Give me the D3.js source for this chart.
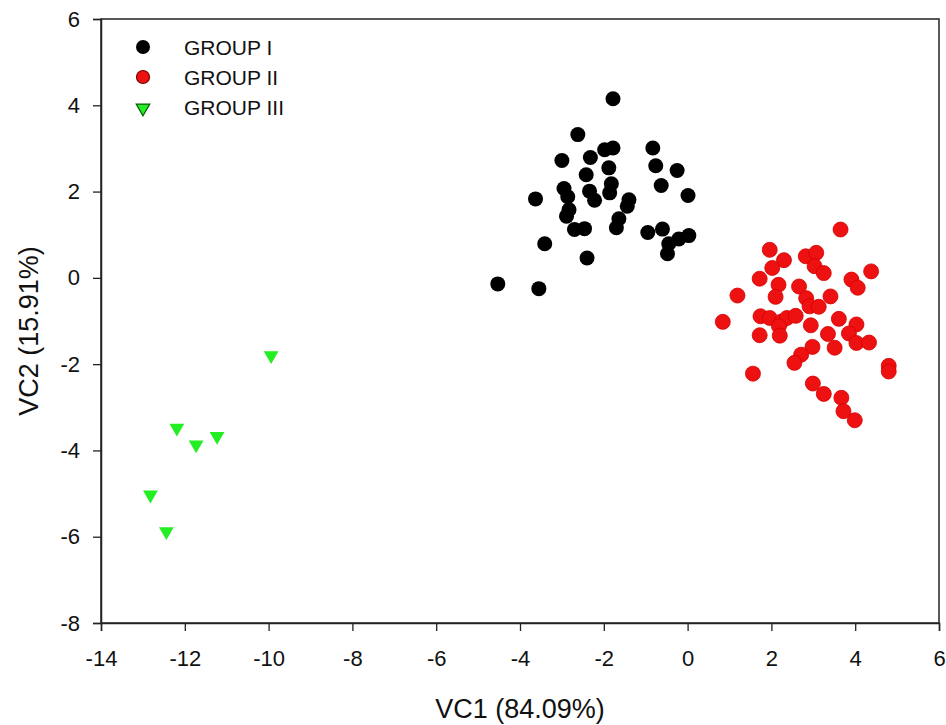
<!DOCTYPE html>
<html>
<head>
<meta charset="utf-8">
<script src="https://cdn.jsdelivr.net/npm/d3@7"></script>
<style>
	body { margin: 0; background: #fff; }
	text { font-family: "Liberation Sans", Arial, sans-serif; fill: #111; }
</style>
</head>
<body>
<div id="chart"></div>
<script>
// group I (black circles)
const groupI = [
	[-1.78, 4.15], [-2.62, 3.32], [-1.98, 2.97], [-1.78, 3.01], [-0.83, 3.01],
	[-3.00, 2.72], [-2.32, 2.79], [-0.76, 2.60], [-0.25, 2.49], [-1.88, 2.55],
	[-2.42, 2.39], [-0.63, 2.14], [0.01, 1.91], [-2.95, 2.07], [-1.82, 2.18],
	[-2.34, 2.01], [-1.86, 1.97], [-2.22, 1.80], [-2.86, 1.88], [-3.63, 1.83],
	[-1.40, 1.81], [-1.44, 1.66], [-2.83, 1.58], [-2.89, 1.43], [-1.64, 1.37],
	[-1.70, 1.16], [-2.70, 1.12], [-2.46, 1.14], [-0.95, 1.05], [-0.60, 1.13],
	[0.03, 0.98], [-0.21, 0.90], [-0.45, 0.79], [-0.48, 0.56], [-3.41, 0.79],
	[-2.40, 0.46], [-4.53, -0.14], [-3.55, -0.25]
];
// group II (red circles)
const groupII = [
	[3.65, 1.12], [1.96, 0.65], [2.82, 0.50], [3.07, 0.58], [2.30, 0.41],
	[2.02, 0.23], [3.03, 0.27], [3.25, 0.11], [4.38, 0.15], [3.91, -0.04],
	[4.06, -0.23], [1.72, -0.02], [2.17, -0.16], [2.66, -0.20], [1.19, -0.41],
	[2.10, -0.44], [2.83, -0.47], [3.41, -0.43], [2.91, -0.66], [3.13, -0.67],
	[1.74, -0.89], [1.96, -0.93], [2.24, -1.01], [2.37, -0.93], [2.58, -0.88],
	[3.61, -0.95], [0.84, -1.02], [2.18, -1.12], [2.94, -1.10], [4.03, -1.08],
	[1.72, -1.33], [2.20, -1.34], [3.35, -1.30], [3.85, -1.29], [4.03, -1.51],
	[4.33, -1.50], [2.98, -1.60], [3.51, -1.62], [2.71, -1.78], [2.55, -1.97],
	[4.80, -2.04], [4.80, -2.17], [1.56, -2.22], [2.99, -2.45], [3.25, -2.69],
	[3.67, -2.78], [3.72, -3.09], [3.99, -3.30]
];
// group III (green triangles)
const groupIII = [
	[-9.94, -1.80], [-12.19, -3.48], [-11.73, -3.87], [-11.23, -3.67],
	[-12.82, -5.03], [-12.44, -5.88]
];
const legendLabels = ["GROUP I", "GROUP II", "GROUP III"];
const xTicks = [-14, -12, -10, -8, -6, -4, -2, 0, 2, 4, 6];
const yTicks = [-8, -6, -4, -2, 0, 2, 4, 6];

const width = 946, height = 725;
const margin = {left: 101, right: 7, top: 19, bottom: 102};

const svg = d3.select("#chart").append("svg")
	.attr("width", width)
	.attr("height", height);

const x = d3.scaleLinear().domain([-14, 6]).range([margin.left, width - margin.right]);
const y = d3.scaleLinear().domain([-8, 6]).range([height - margin.bottom, margin.top]);

// frame
svg.append("rect")
	.attr("x", x(-14)).attr("y", y(6))
	.attr("width", x(6) - x(-14)).attr("height", y(-8) - y(6))
	.attr("fill", "none").attr("stroke", "#222").attr("stroke-width", 1.5);

// axes
const xAxis = svg.append("g")
	.attr("transform", `translate(0,${y(-8)})`)
	.call(d3.axisBottom(x).tickValues(xTicks).tickSize(8).tickPadding(19).tickFormat(d3.format("d")));
const yAxis = svg.append("g")
	.attr("transform", `translate(${x(-14)},0)`)
	.call(d3.axisLeft(y).tickValues(yTicks).tickSize(8).tickPadding(13).tickFormat(d3.format("d")));

[xAxis, yAxis].forEach(g => {
	g.attr("font-size", null).attr("font-family", null);
	g.select(".domain").attr("stroke", "#222").attr("stroke-width", 1.5);
	g.selectAll(".tick line").attr("stroke", "#222").attr("stroke-width", 1.3);
	g.selectAll(".tick text").attr("font-size", 22).attr("fill", "#111")
		.text(d => d < 0 ? "-" + Math.abs(d) : d);
});

// axis titles
svg.append("text")
	.attr("x", (x(-14) + x(6)) / 2)
	.attr("y", 718)
	.attr("text-anchor", "middle")
	.attr("font-size", 27)
	.text("VC1 (84.09%)");

svg.append("text")
	.attr("transform", `translate(38,331) rotate(-90)`)
	.attr("text-anchor", "middle")
	.attr("font-size", 27)
	.text("VC2 (15.91%)");

// points
const plot = svg.append("g");

plot.selectAll("circle.g1")
	.data(groupI).enter()
	.append("circle")
	.attr("class", "g1")
	.attr("cx", d => x(d[0]))
	.attr("cy", d => y(d[1]))
	.attr("r", 7.5)
	.attr("fill", "#000");

plot.selectAll("circle.g2")
	.data(groupII).enter()
	.append("circle")
	.attr("class", "g2")
	.attr("cx", d => x(d[0]))
	.attr("cy", d => y(d[1]))
	.attr("r", 7.5)
	.attr("fill", "#ee1111")
	.attr("stroke", "#d40000")
	.attr("stroke-width", 0.8);

const tri = d3.symbol().type(d3.symbolTriangle).size(95);
plot.selectAll("path.g3")
	.data(groupIII).enter()
	.append("path")
	.attr("class", "g3")
	.attr("d", tri)
	.attr("transform", d => `translate(${x(d[0])},${y(d[1])}) rotate(180)`)
	.attr("fill", "#22ee22");

// legend
const legend = svg.append("g").attr("transform", "translate(143,47)");
const rowGap = 30;
legendLabels.forEach((label, i) => {
	const row = legend.append("g").attr("transform", `translate(0,${i * rowGap})`);
	if (i === 0) {
		row.append("circle").attr("r", 7).attr("fill", "#000");
	} else if (i === 1) {
		row.append("circle").attr("r", 6.5).attr("fill", "#ee1111")
			.attr("stroke", "#7a0000").attr("stroke-width", 1.2);
	} else {
		row.append("path").attr("d", d3.symbol().type(d3.symbolTriangle).size(80))
			.attr("transform", "translate(0,1) rotate(180)")
			.attr("fill", "#22ee22").attr("stroke", "#0a5a0a").attr("stroke-width", 1.2);
	}
	row.append("text")
		.attr("x", 41)
		.attr("y", 7.5)
		.attr("font-size", 21)
		.text(label);
});
</script>
</body>
</html>
